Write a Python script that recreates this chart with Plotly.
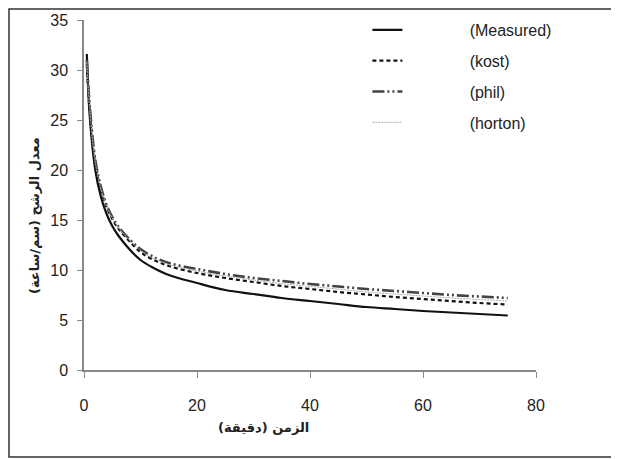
import plotly.graph_objects as go

# time (minutes)
t = [0.5, 1, 2, 3, 4, 5, 6, 8, 10, 12, 15, 20, 25, 30, 35, 40, 45, 50, 55, 60, 65, 70, 75]
measured = [31.6, 25.5, 20.0, 17.3, 15.6, 14.4, 13.5, 12.1, 11.0, 10.3, 9.5, 8.7, 8.0, 7.6, 7.2, 6.9, 6.6, 6.3, 6.1, 5.9, 5.75, 5.6, 5.45]
kost = [30.5, 26.0, 20.6, 18.0, 16.3, 15.1, 14.2, 12.9, 11.8, 11.1, 10.4, 9.7, 9.2, 8.8, 8.4, 8.1, 7.8, 7.55, 7.3, 7.1, 6.9, 6.7, 6.55]
phil = [31.0, 26.5, 21.0, 18.3, 16.5, 15.3, 14.4, 13.1, 12.1, 11.4, 10.7, 10.1, 9.6, 9.2, 8.9, 8.6, 8.35, 8.1, 7.9, 7.7, 7.5, 7.35, 7.2]
horton = [30.8, 26.2, 20.8, 18.1, 16.4, 15.2, 14.3, 13.0, 11.95, 11.25, 10.55, 9.9, 9.4, 9.0, 8.65, 8.35, 8.1, 7.8, 7.6, 7.4, 7.2, 7.05, 6.9]

names = ["(Measured)", "(kost)", "(phil)", "(horton)"]
x_ticks = [0, 20, 40, 60, 80]
y_ticks = [0, 5, 10, 15, 20, 25, 30, 35]
x_title = "الزمن (دقيقة)"
y_title = "معدل الرشح (سم/ساعة)"

pad = "\u00a0" * 14
styles = [
    dict(color="#111111", width=2.2, dash="solid"),
    dict(color="#111111", width=2.2, dash="4px,3px"),
    dict(color="#444444", width=2.6, dash="12px,3px,2px,3px,2px,3px"),
    dict(color="#aaaaaa", width=1, dash="2px,1px"),
]
series = [measured, kost, phil, horton]

fig = go.Figure()
for i, (nm, ys, st) in enumerate(zip(names, series, styles)):
    fig.add_trace(go.Scatter(x=t, y=ys, mode="lines", name=pad + nm,
                             line=dict(shape="spline", **st), legendgroup=str(i)))

L, T = 76, 12
fig.update_layout(
    width=619, height=459,
    margin=dict(l=L, r=619 - L - 452, t=T, b=459 - T - 350, autoexpand=False),
    paper_bgcolor="white", plot_bgcolor="white",
    font=dict(family="Liberation Sans", size=16, color="#222222"),
    showlegend=True,
    legend=dict(x=0.627, y=1.02, xanchor="left", yanchor="top",
                bgcolor="rgba(0,0,0,0)", tracegroupgap=7,
                font=dict(size=16, color="#222222")),
    xaxis=dict(range=[0, 80], tickvals=x_ticks, showgrid=False, zeroline=False,
               showline=True, linecolor="#888888", linewidth=1.5,
               ticks="outside", ticklen=6, tickcolor="#888888",
               ticklabelstandoff=14),
    yaxis=dict(range=[0, 35], tickvals=y_ticks, showgrid=False, zeroline=False,
               showline=True, linecolor="#888888", linewidth=1.5,
               ticks="outside", ticklen=5, tickcolor="#888888",
               ticklabelstandoff=6),
    shapes=[dict(type="rect", xref="paper", yref="paper",
                 x0=(1 - L) / 452, x1=1.2, y0=(350 + T - 449) / 350, y1=(350 + T - 1) / 350,
                 line=dict(color="#333333", width=1.5))],
    annotations=[
        dict(text=x_title, xref="paper", yref="paper", x=(255 - L) / 452, y=(350 + T - 419) / 350,
             xanchor="center", yanchor="middle",
             showarrow=False, font=dict(family="DejaVu Sans", size=13, weight="bold", color="#222222")),
        dict(text=y_title, xref="paper", yref="paper", x=(26 - L) / 452, y=(350 + T - 208) / 350,
             xanchor="center", yanchor="middle",
             showarrow=False, textangle=-90, font=dict(family="DejaVu Sans", size=13, weight="bold", color="#222222")),
    ],
)

fig.write_html("out.html")
